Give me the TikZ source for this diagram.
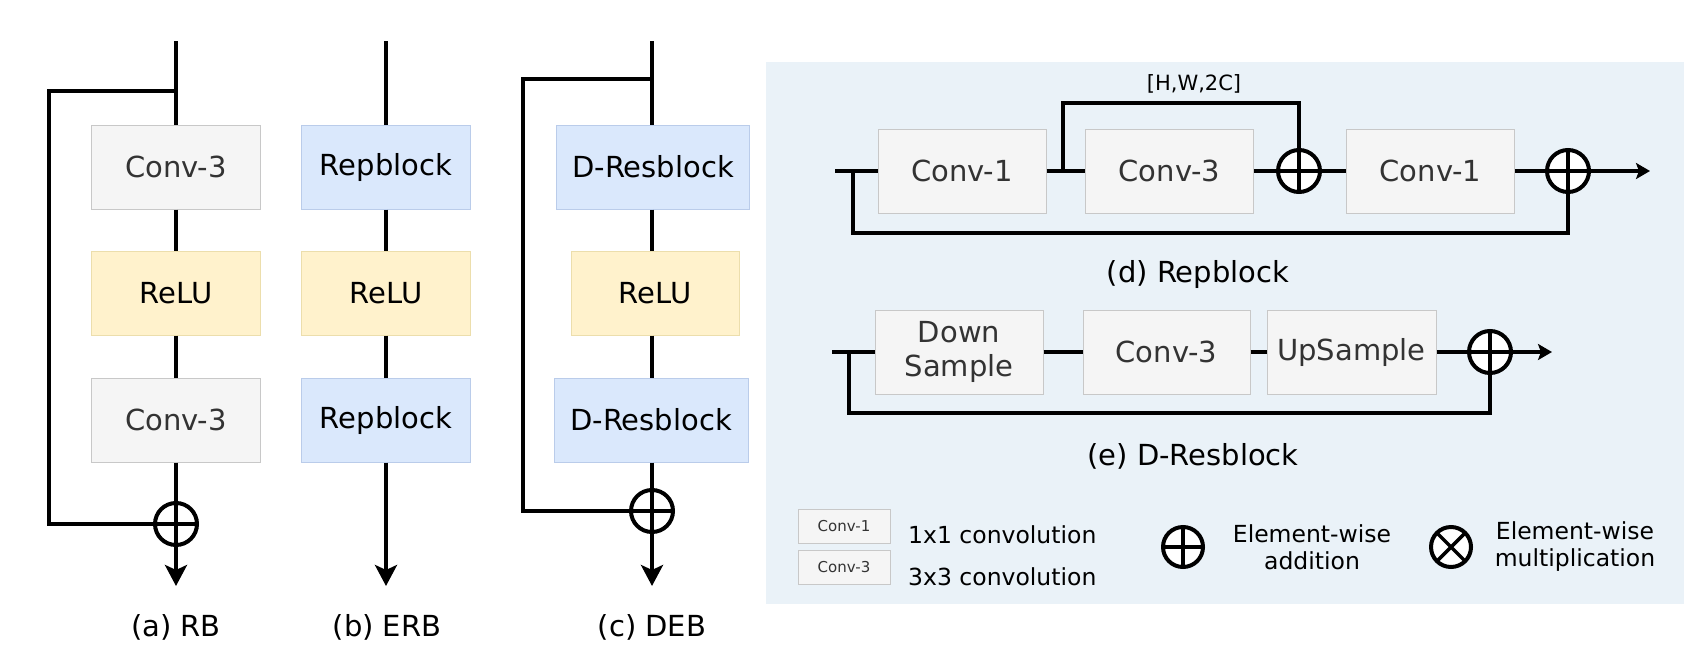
\documentclass[tikz,border=0pt]{standalone}
\usepackage{fontspec}
\setmainfont{DejaVu Sans}
\usetikzlibrary{arrows.meta}
\definecolor{panelbg}{RGB}{234,242,248}
\definecolor{grayfill}{RGB}{245,245,245}
\definecolor{graydraw}{RGB}{200,200,200}
\definecolor{graytext}{RGB}{51,51,51}
\definecolor{yelfill}{RGB}{255,242,204}
\definecolor{yeldraw}{RGB}{236,222,172}
\definecolor{bluefill}{RGB}{218,232,252}
\definecolor{bluedraw}{RGB}{186,204,234}
\tikzset{
  blk/.style={minimum width=169pt, minimum height=84pt, inner sep=0pt, line width=1pt,
    font=\fontsize{29}{34}\selectfont, align=center},
  graybox/.style={blk, fill=grayfill, draw=graydraw, text=graytext},
  yelbox/.style={blk, fill=yelfill, draw=yeldraw, text=black},
  bluebox/.style={blk, fill=bluefill, draw=bluedraw, text=black},
  legbox/.style={minimum width=92pt, minimum height=34pt, inner sep=0pt, line width=1pt,
    fill=grayfill, draw=graydraw, text=graytext, font=\fontsize{15}{18}\selectfont},
  conn/.style={line width=4pt, draw=black},
  connr/.style={line width=3.5pt, draw=black},
  bigarrow/.style={-{Stealth[length=21pt,width=22pt,inset=5pt]}},
  smallarrow/.style={-{Stealth[length=14pt,width=16pt,inset=3pt]}},
  addc/.style={circle, draw=black, fill=white, line width=4pt, minimum size=42pt, inner sep=0pt,
    path picture={\draw[line width=3.5pt] (path picture bounding box.north) -- (path picture bounding box.south)
      (path picture bounding box.west) -- (path picture bounding box.east);}},
  mulc/.style={circle, draw=black, fill=white, line width=4pt, minimum size=40pt, inner sep=0pt,
    path picture={\draw[line width=3.5pt] (path picture bounding box.north west) -- (path picture bounding box.south east)
      (path picture bounding box.south west) -- (path picture bounding box.north east);}},
  lbl/.style={font=\fontsize{29}{34}\selectfont, inner sep=0pt},
  legtxt/.style={font=\fontsize{23.5}{27}\selectfont, inner sep=0pt, align=center},
}
\begin{document}
\begin{tikzpicture}[x=1pt,y=-1pt]
\useasboundingbox (0,0) rectangle (1700,656);
\fill[panelbg] (766,62) rectangle (1684,604);

% ---------- (a) RB ----------
\node[graybox] (a1) at (176,167) {Conv-3};
\node[yelbox] (a2) at (176,293) {ReLU};
\node[graybox] (a3) at (176,420) {Conv-3};
\node[addc] (aadd) at (176,524) {};
\coordinate (ain) at (176,41);
\coordinate (abr) at (176,91);
\coordinate (aleft) at (49,91);
\coordinate (aout) at (176,586);
\draw[conn] (ain) -- (a1);
\draw[conn] (a1) -- (a2);
\draw[conn] (a2) -- (a3);
\draw[conn] (a3) -- (aadd);
\draw[conn] (abr) -- (aleft) |- (aadd);
\draw[conn,bigarrow] (aadd) -- (aout);
\node[lbl] (alab) at (176,627) {(a) RB};

% ---------- (b) ERB ----------
\node[bluebox] (b1) at (386,167) {Repblock};
\node[yelbox] (b2) at (386,293) {ReLU};
\node[bluebox] (b3) at (386,420) {Repblock};
\coordinate (bin) at (386,41);
\coordinate (bout) at (386,586);
\draw[conn] (bin) -- (b1);
\draw[conn] (b1) -- (b2);
\draw[conn] (b2) -- (b3);
\draw[conn,bigarrow] (b3) -- (bout);
\node[lbl] (blab) at (387,627) {(b) ERB};

% ---------- (c) DEB ----------
\node[bluebox, minimum width=193pt] (c1) at (653,167) {D-Resblock};
\node[yelbox, minimum width=168pt] (c2) at (655,293) {ReLU};
\node[bluebox, minimum width=194pt] (c3) at (651,420) {D-Resblock};
\node[addc] (cadd) at (652,511) {};
\coordinate (cin) at (652,41);
\coordinate (cbr) at (652,79);
\coordinate (cleft) at (523,79);
\coordinate (cout) at (652,586);
\draw[conn] (cin) -- (cin |- c1.north);
\draw[conn] (cin |- c1.south) -- (cin |- c2.north);
\draw[conn] (cin |- c2.south) -- (cin |- c3.north);
\draw[conn] (cin |- c3.south) -- (cadd);
\draw[conn] (cbr) -- (cleft) |- (cadd);
\draw[conn,bigarrow] (cadd) -- (cout);
\node[lbl] (clab) at (652,627) {(c) DEB};

% ---------- (d) Repblock ----------
\node[graybox, minimum width=168pt] (d1) at (962,171) {Conv-1};
\node[graybox, minimum width=168pt] (d2) at (1169.5,171) {Conv-3};
\node[addc] (dadd1) at (1299,171) {};
\node[graybox, minimum width=168pt] (d3) at (1430.5,171) {Conv-1};
\node[addc] (dadd2) at (1568,171) {};
\coordinate (din) at (835,171);
\coordinate (dbr) at (853,171);
\coordinate (dbot) at (853,233);
\coordinate (dbr2) at (1063,171);
\coordinate (dtop) at (1063,103);
\coordinate (dout) at (1650,171);
\draw[connr] (din) -- (d1);
\draw[connr] (d1) -- (d2);
\draw[connr] (dbr2) -- (dtop) -| (dadd1);
\draw[connr] (d2) -- (dadd1);
\draw[connr] (dadd1) -- (d3);
\draw[connr] (d3) -- (dadd2);
\draw[connr,smallarrow] (dadd2) -- (dout);
\draw[connr] (dbr) -- (dbot) -| (dadd2);
\node[font=\fontsize{21}{25}\selectfont, inner sep=0pt] (dshape) at (1194,84) {[H,W,2C]};
\node[lbl] (dlab) at (1198,274) {(d) Repblock};

% ---------- (e) D-Resblock ----------
\node[graybox, minimum width=168pt] (e1) at (959,352) {Down\\Sample};
\node[graybox, minimum width=167pt] (e2) at (1166.5,352) {Conv-3};
\node[graybox, minimum width=169pt] (e3) at (1351.5,352) {UpSample};
\node[addc] (eadd) at (1490,352) {};
\coordinate (ein) at (832,352);
\coordinate (ebr) at (849,352);
\coordinate (ebot) at (849,413);
\coordinate (eout) at (1552,352);
\draw[connr] (ein) -- (e1);
\draw[connr] (e1) -- (e2);
\draw[connr] (e2) -- (e3);
\draw[connr] (e3) -- (eadd);
\draw[connr,smallarrow] (eadd) -- (eout);
\draw[connr] (ebr) -- (ebot) -| (eadd);
\node[lbl] (elab) at (1193,456) {(e) D-Resblock};

% ---------- legend ----------
\node[legbox] (l1) at (844,526) {Conv-1};
\node[legbox] (l3) at (844,567) {Conv-3};
\node[legtxt, anchor=west] (l1t) at (908,535) {1x1 convolution};
\node[legtxt, anchor=west] (l3t) at (908,577) {3x3 convolution};
\node[addc, minimum size=40pt] (ladd) at (1183,547) {};
\node[legtxt] (laddt) at (1312,547) {Element-wise\\addition};
\node[mulc] (lmul) at (1451,547) {};
\node[legtxt] (lmult) at (1575,547) {Element-wise\\multiplication};
\end{tikzpicture}
\end{document}
